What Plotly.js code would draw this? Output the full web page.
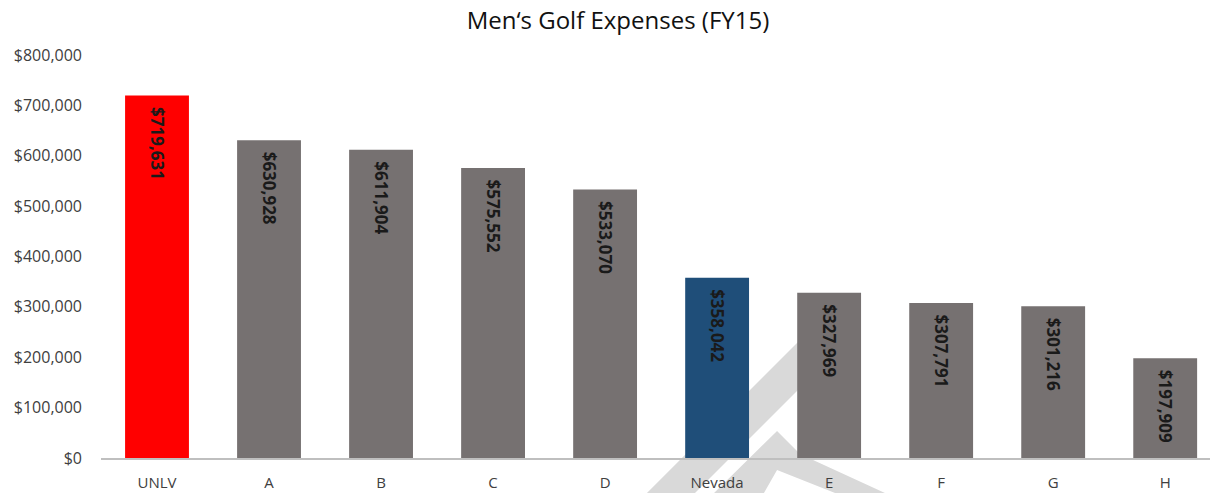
<!DOCTYPE html>
<html>
<head>
<meta charset="utf-8">
<script src="https://cdn.plot.ly/plotly-3.0.1.min.js"></script>
<style>html,body{margin:0;padding:0;background:#fff;}#chart{width:1215px;height:493px;}</style>
</head>
<body>
<div id="chart"></div>
<script>
const categories = ["UNLV", "A", "B", "C", "D", "Nevada", "E", "F", "G", "H"];
const expenses = [719631, 630928, 611904, 575552, 533070, 358042, 327969, 307791, 301216, 197909];
const barColors = ["#ff0000", "#767171", "#767171", "#767171", "#767171", "#1f4e79", "#767171", "#767171", "#767171", "#767171"];
const yTickVals = [0, 100000, 200000, 300000, 400000, 500000, 600000, 700000, 800000];
const yTickText = ["$0", "$100,000", "$200,000", "$300,000", "$400,000", "$500,000", "$600,000", "$700,000", "$800,000"];
const chartTitle = "Men\u2018s Golf Expenses (FY15)";

const labels = expenses.map(v => "\u2002$" + v.toLocaleString("en-US"));

const FONT = "Open Sans, Liberation Sans, sans-serif";

// watermark in pixel coords converted to paper coordinates
const L = 101, R = 1210, T = 55, B = 458;
function px(x) { return (x - L) / (R - L); }
function py(y) { return (B - y) / (B - T); }
function path(pts) { return "M" + pts.map(p => px(p[0]).toFixed(4) + "," + py(p[1]).toFixed(4)).join(" L") + " Z"; }

const band = path([[647, 493], [840, 300], [840, 348], [695, 493]]);
const chevron = path([[714, 493], [777, 431], [800, 454], [885, 493], [835, 493], [777, 470], [764, 493]]);

const trace = {
  type: "bar",
  x: categories,
  y: expenses,
  marker: { color: barColors },
  text: labels,
  textposition: "inside",
  insidetextanchor: "end",
  textangle: 90,
  constraintext: "none",
  insidetextfont: { family: FONT, size: 17, color: "#1a1a1a", weight: "bold" },
  hoverinfo: "x+y"
};

const layout = {
  width: 1215,
  height: 493,
  margin: { l: L, r: 1215 - R, t: T, b: 493 - B },
  paper_bgcolor: "#ffffff",
  plot_bgcolor: "rgba(0,0,0,0)",
  title: { text: chartTitle, x: 0.5086, xanchor: "center", y: 0.958, yanchor: "middle", font: { family: FONT, size: 24, color: "#111111" } },
  bargap: 0.43,
  showlegend: false,
  xaxis: {
    type: "category",
    range: [-0.5, 9.4],
    showgrid: false,
    showline: true,
    linecolor: "#bfbfbf",
    linewidth: 1.5,
    ticks: "",
    ticklabelstandoff: 10,
    tickfont: { family: FONT, size: 15, color: "#404040" },
    fixedrange: true
  },
  yaxis: {
    range: [0, 800000],
    tickvals: yTickVals,
    ticktext: yTickText,
    showgrid: false,
    zeroline: false,
    showline: false,
    ticks: "",
    ticklabelstandoff: 18,
    tickfont: { family: FONT, size: 16, color: "#404040" },
    fixedrange: true
  },
  shapes: [
    { type: "path", xref: "paper", yref: "paper", path: band, fillcolor: "#d9d9d9", line: { width: 0 }, layer: "below" },
    { type: "path", xref: "paper", yref: "paper", path: chevron, fillcolor: "#d9d9d9", line: { width: 0 }, layer: "below" }
  ]
};

Plotly.newPlot("chart", [trace], layout, { displayModeBar: false, staticPlot: true });
</script>
</body>
</html>
